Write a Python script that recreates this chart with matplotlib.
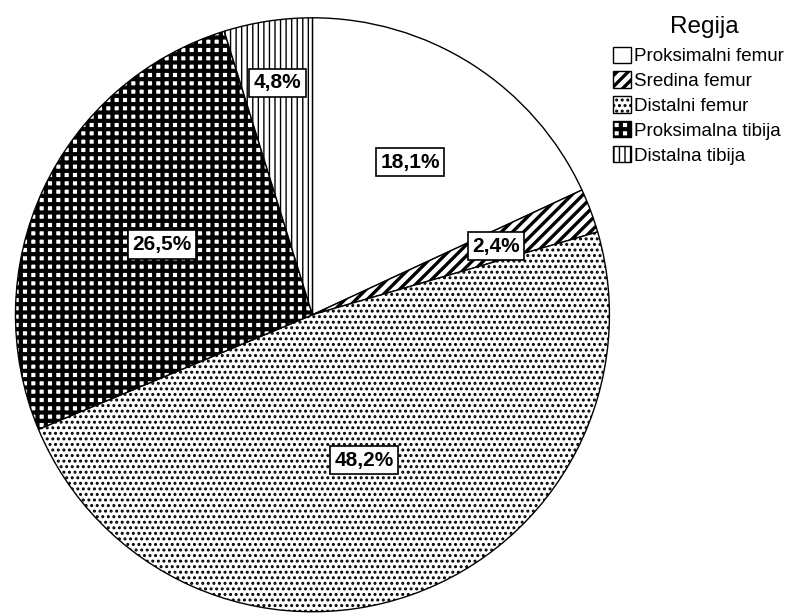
import numpy as np
import matplotlib
matplotlib.use("Agg")
import matplotlib.pyplot as plt
from matplotlib.patches import Patch

plt.rcParams['font.family'] = ['Liberation Sans', 'DejaVu Sans']

regions = ["Proksimalni femur", "Sredina femur", "Distalni femur",
           "Proksimalna tibija", "Distalna tibija"]
shares = [18.1, 2.4, 48.2, 26.5, 4.8]
pct_labels = ["18,1%", "2,4%", "48,2%", "26,5%", "4,8%"]

# fill styles per wedge: (hatch, hatch linewidth)
styles = [(None, 1.0),
          ("///", 2.4),
          ("...", 1.4),
          ("++", 3.0),
          ("|||", 1.0)]
label_r = [0.61, 0.66, 0.52, 0.56, 0.79]

fig = plt.figure(figsize=(8.02, 6.13), dpi=100)
ax = fig.add_axes([0.0156, -0.003, 0.748, 0.979])

wedges, _ = ax.pie(shares, startangle=90, counterclock=False, radius=1.0,
                   wedgeprops=dict(facecolor="white", edgecolor="black",
                                   linewidth=1.0))
for w, (h, hlw) in zip(wedges, styles):
    if h:
        w.set_hatch(h)
        if hasattr(w, "set_hatch_linewidth"):
            w.set_hatch_linewidth(hlw)

for w, txt, r in zip(wedges, pct_labels, label_r):
    mid = np.deg2rad((w.theta1 + w.theta2) / 2)
    ax.text(r * np.cos(mid), r * np.sin(mid), txt, ha="center", va="center",
            fontsize=15, fontweight="bold",
            bbox=dict(boxstyle="square,pad=0.22", fc="white", ec="black", lw=1.2))

ax.set_xlim(-1.01, 1.01)
ax.set_ylim(-1.01, 1.01)
ax.set_aspect("equal")
ax.axis("off")

handles = []
for (h, hlw) in styles:
    p = Patch(facecolor="white", edgecolor="black", hatch=h, linewidth=1.0)
    if h and hasattr(p, "set_hatch_linewidth"):
        p.set_hatch_linewidth(hlw)
    handles.append(p)

fig.text(0.878, 0.946, "Regija", ha="center", va="baseline", fontsize=17.5)
leg = fig.legend(handles, regions, loc="upper left",
                 bbox_to_anchor=(0.7643, 0.924), frameon=False, fontsize=13.5,
                 handlelength=0.95, handleheight=0.95,
                 handletextpad=0.15, labelspacing=0.34, borderpad=0.0,
                 borderaxespad=0.0)
# legend copies patch properties; reapply hatch widths
for p, (h, hlw) in zip(leg.get_patches(), styles):
    if h and hasattr(p, "set_hatch_linewidth"):
        p.set_hatch_linewidth(hlw)

fig.savefig("out.png", dpi=100)
